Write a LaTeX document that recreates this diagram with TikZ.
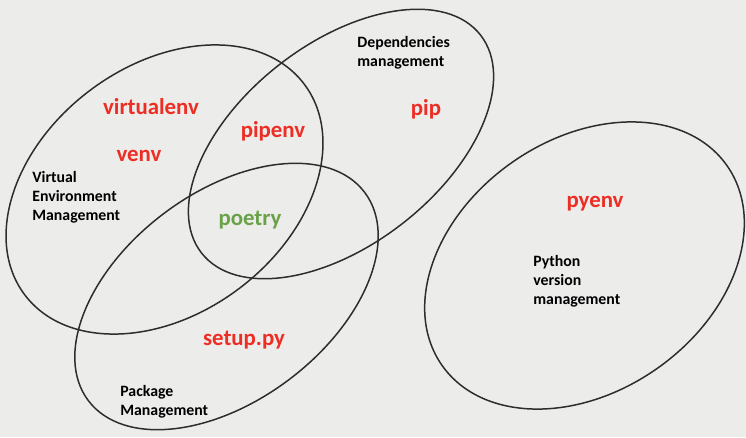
\documentclass[tikz,border=0pt]{standalone}
\usepackage{fontspec}
\setmainfont{Carlito}
\usepackage{tikz}
\usetikzlibrary{calc}
\definecolor{bgpaper}{RGB}{236,236,235}
\definecolor{toolred}{RGB}{236,46,36}
\definecolor{toolgreen}{RGB}{106,162,72}
\definecolor{ringgray}{RGB}{45,45,45}

\begin{document}
\begin{tikzpicture} [x=0.02cm, y=0.02cm,
  ring/.style={draw=ringgray, line width=0.85pt},
  tool/.style={text=toolred, font=\fontsize{13}{15}\selectfont\bfseries, anchor=base, inner sep=0pt},
  area/.style={text=black, font=\fontsize{9}{10.8}\selectfont\bfseries, anchor=base west, align=left, inner sep=0pt}]
\fill[bgpaper] (0,0) rectangle (746,437);
\useasboundingbox (0,0) rectangle (746,437);

\draw[ring, rotate around={37:(164.5,247.5)}] (164.5,247.5) ellipse [x radius=175, y radius=124];
\draw[ring, rotate around={38:(341,293)}] (341,293) ellipse [x radius=177, y radius=100.5];
\draw[ring, rotate around={37:(226.5,140.5)}] (226.5,140.5) ellipse [x radius=173, y radius=104];
\draw[ring, rotate around={35:(584.5,171.5)}] (584.5,171.5) ellipse [x radius=174, y radius=126];

\node[tool] (virtualenv) at (151,323) {virtualenv};
\node[tool] (venv) at (139,276) {venv};
\node[tool] (pipenv) at (273,300) {pipenv};
\node[tool] (pip) at (426,322) {pip};
\node[tool, text=toolgreen] (poetry) at (250,212) {poetry};
\node[tool] (setuppy) at (244,92) {setup.py};
\node[tool] (pyenv) at (595,230) {pyenv};

\node[area] (venvmgmt) at (32,217) {Virtual\\Environment\\Management};
\node[area] (depmgmt) at (357,371) {Dependencies\\management};
\node[area] (pkgmgmt) at (120,22) {Package\\Management};
\node[area] (pyvermgmt) at (533,133) {Python\\version\\management};

\end{tikzpicture}
\end{document}
